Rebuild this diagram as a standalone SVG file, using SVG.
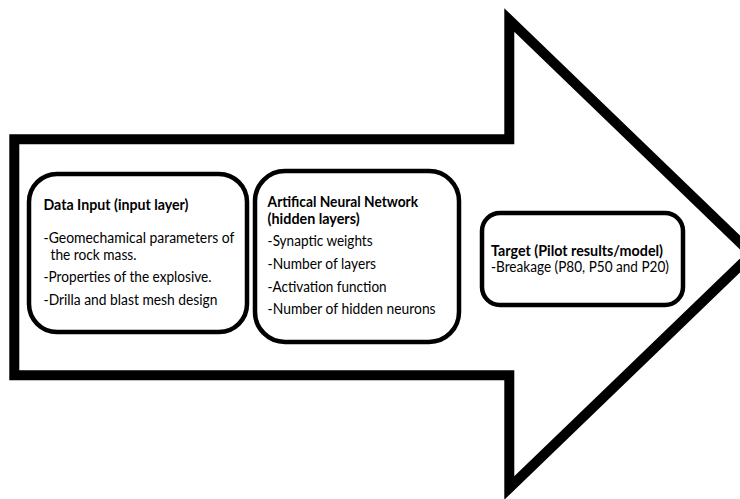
<svg xmlns="http://www.w3.org/2000/svg" width="740" height="499" viewBox="0 0 740 499">
<style>
.arrow{fill:#fff;stroke:#000;stroke-width:10;stroke-linejoin:miter;stroke-miterlimit:10}
.box{fill:#fff;stroke:#000;stroke-width:4.5}
text{font-family:Lato,"Liberation Sans",sans-serif;font-size:14.5px;fill:#000}
.b{font-weight:bold}
</style>
<rect x="0" y="0" width="740" height="499" fill="#fff"/>
<g id="connectors">
<path id="big-arrow" class="arrow" d="M14.3,139.3 L509.3,139.3 L509.3,20 L752,254 L509.3,488 L509.3,375.3 L14.3,375.3 Z"/>
</g>
<g id="node-input">
<rect class="box" x="29" y="174" width="218" height="158" rx="28" ry="28"/>
<text class="b" x="43.5" y="210" textLength="145" lengthAdjust="spacingAndGlyphs">Data Input (input layer)</text>
<text x="43.5" y="243" textLength="191" lengthAdjust="spacingAndGlyphs">-Geomechamical parameters of</text>
<text x="50.5" y="259.5" textLength="86" lengthAdjust="spacingAndGlyphs">the rock mass.</text>
<text x="43.5" y="282" textLength="168" lengthAdjust="spacingAndGlyphs">-Properties of the explosive.</text>
<text x="43.5" y="304.5" textLength="174" lengthAdjust="spacingAndGlyphs">-Drilla and blast mesh design</text>
</g>
<g id="node-ann">
<rect class="box" x="255" y="171" width="204" height="171" rx="30" ry="30"/>
<text class="b" x="267.6" y="207" textLength="150.5" lengthAdjust="spacingAndGlyphs">Artifical Neural Network</text>
<text class="b" x="267.6" y="223.5" textLength="92" lengthAdjust="spacingAndGlyphs">(hidden layers)</text>
<text x="267.6" y="246" textLength="105" lengthAdjust="spacingAndGlyphs">-Synaptic weights</text>
<text x="267.6" y="269" textLength="108.5" lengthAdjust="spacingAndGlyphs">-Number of layers</text>
<text x="267.6" y="291.5" textLength="119" lengthAdjust="spacingAndGlyphs">-Activation function</text>
<text x="267.6" y="314" textLength="168" lengthAdjust="spacingAndGlyphs">-Number of hidden neurons</text>
</g>
<g id="node-target">
<rect class="box" x="482" y="213" width="201" height="92" rx="18" ry="18"/>
<text class="b" x="491" y="255.5" textLength="172" lengthAdjust="spacingAndGlyphs">Target (Pilot results/model)</text>
<text x="491" y="272" textLength="178" lengthAdjust="spacingAndGlyphs">-Breakage (P80, P50 and P20)</text>
</g>
</svg>
